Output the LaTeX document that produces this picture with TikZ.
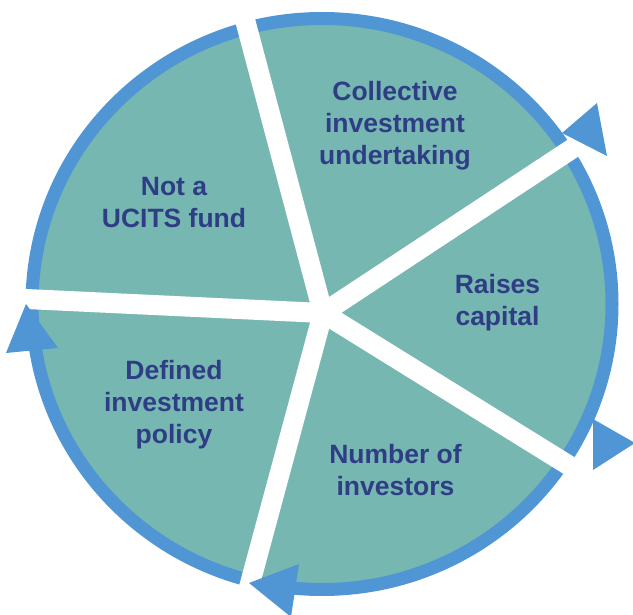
\documentclass[tikz,border=0pt]{standalone}
\usepackage{fontspec}
\setmainfont{Liberation Sans}
\usetikzlibrary{calc}
\definecolor{tealfill}{RGB}{118,183,178}
\definecolor{ringblue}{RGB}{80,150,212}
\definecolor{navytext}{RGB}{47,61,133}
\tikzset{
  segtext/.style={align=center, inner sep=0pt, text=navytext,
    font=\fontsize{26.5}{32}\selectfont\bfseries},
  spoke/.style={draw=white, line width=20pt},
  arrowhd/.style={fill=ringblue},
}
\begin{document}
\begin{tikzpicture}[x=1pt,y=-1pt]
\useasboundingbox (0,0) rectangle (633,615);
\clip (0,0) rectangle (633,615);
\coordinate (c) at (322,304);
\coordinate (hub) at (323,313);
% disk and ring
\fill[tealfill] (c) ellipse [x radius=290pt, y radius=285.5pt];
\draw[ringblue, line width=13pt] (c) ellipse [x radius=290pt, y radius=285.5pt];
% white spokes
\draw[spoke] (hub) -- ($(hub)+(-104.9:330)$);
\draw[spoke] (hub) -- ($(hub)+(-33.4:302)$);
\draw[spoke] (hub) -- ($(hub)+(31.8:330)$);
\draw[spoke] (hub) -- ($(hub)+(105.1:330)$);
\draw[spoke] (hub) -- ($(hub)+(-177.3:330)$);
% arrowheads
\fill[arrowhd] (562,133) -- (597,103) -- (607,156) -- cycle;
\fill[arrowhd] (593,419) -- (593,470) -- (635,443) -- cycle;
\fill[arrowhd] (249,583) -- (299,564) -- (291,617) -- cycle;
\fill[arrowhd] (26,304) -- (6,353) -- (58,348) -- cycle;
% labels
\node[segtext] (cit) at (395,126.5) {\strut Collective\\\strut investment\\\strut undertaking};
\node[segtext] (ucits) at (174,205) {\strut Not a\\\strut UCITS fund};
\node[segtext] (raises) at (497.5,303) {\strut Raises\\\strut capital};
\node[segtext] (policy) at (174,405) {\strut Defined\\\strut investment\\\strut policy};
\node[segtext] (number) at (395.5,473) {\strut Number of\\\strut investors};
\end{tikzpicture}
\end{document}
